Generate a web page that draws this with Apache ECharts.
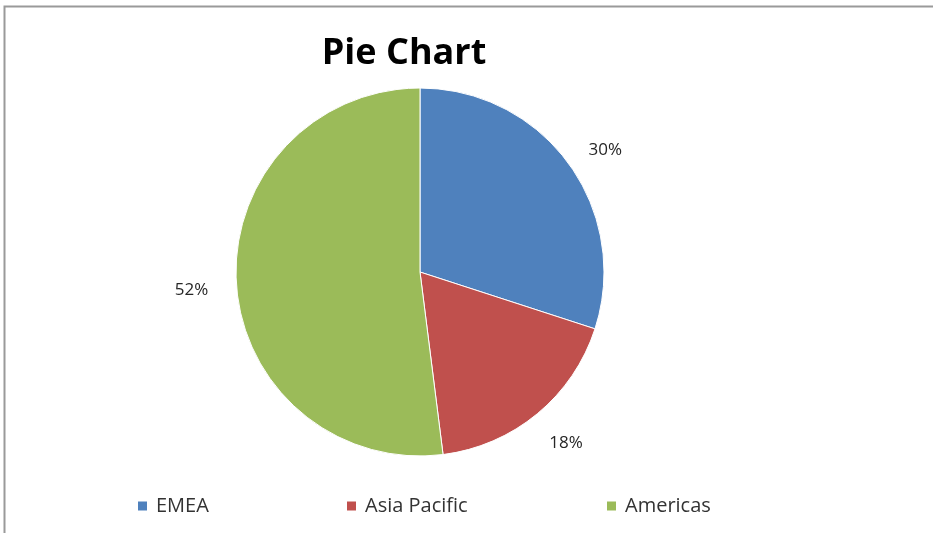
<!DOCTYPE html>
<html>
<head>
<meta charset="utf-8">
<script src="https://cdn.jsdelivr.net/npm/echarts@6/dist/echarts.min.js"></script>
<style>
  html, body { margin: 0; padding: 0; background: #fff; }
  #chart { width: 933px; height: 533px; }
</style>
</head>
<body>
<div id="chart"></div>
<script>
// Regional share of the total
const regions = ['EMEA', 'Asia Pacific', 'Americas'];
const shares = [30, 18, 52];
const colors = ['#4F81BD', '#C0504D', '#9BBB59'];

// layout tweaks: legend entry positions and label nudges
const legendLefts = [131, 340, 600];
const labelNudges = [[0, 13], [0, -5], [0, 4]];

const FONT = '"Open Sans", "Noto Sans", sans-serif';

const sliceData = regions.map((name, i) => ({ name: name, value: shares[i] }));
const labelData = regions.map((name, i) => ({
  name: name, value: shares[i], label: { offset: labelNudges[i] }
}));

const chart = echarts.init(document.getElementById('chart'), null, { renderer: 'canvas' });

chart.setOption({
  backgroundColor: '#ffffff',
  color: colors,
  animation: false,
  graphic: [
    // chart area frame (top and left edges)
    { type: 'polyline', shape: { points: [[4.5, 533], [4.5, 6.5], [933, 6.5]] },
      style: { stroke: '#9a9a9a', lineWidth: 2, fill: null }, silent: true },
    { type: 'text', silent: true, style: {
        text: 'Pie Chart', x: 404, y: 54, align: 'center', verticalAlign: 'middle',
        font: 'bold 36px ' + FONT, fill: '#000' } }
  ],
  legend: regions.map((name, i) => ({
    left: legendLefts[i],
    top: 491,
    itemWidth: 11,
    itemHeight: 11,
    itemGap: 0,
    icon: 'rect',
    data: [name],
    textStyle: { fontFamily: FONT, fontSize: 20, color: '#333', padding: [0, 0, 0, 3] }
  })),
  series: [
    {
      name: 'Share',
      type: 'pie',
      center: [420, 272],
      radius: [0, 184],
      startAngle: 90,
      clockwise: true,
      silent: true,
      itemStyle: { borderColor: '#ffffff', borderWidth: 1 },
      label: { show: false },
      labelLine: { show: false },
      data: sliceData
    },
    {
      // ring used only to place the percentage labels just outside the pie
      name: 'Labels',
      type: 'pie',
      center: [420, 272],
      radius: [184, 268],
      startAngle: 90,
      clockwise: true,
      silent: true,
      itemStyle: { color: 'rgba(0,0,0,0)' },
      label: {
        show: true,
        position: 'inside',
        formatter: p => p.value + '%',
        fontFamily: FONT,
        fontSize: 17,
        color: '#262626'
      },
      labelLine: { show: false },
      data: labelData
    }
  ]
});
</script>
</body>
</html>
